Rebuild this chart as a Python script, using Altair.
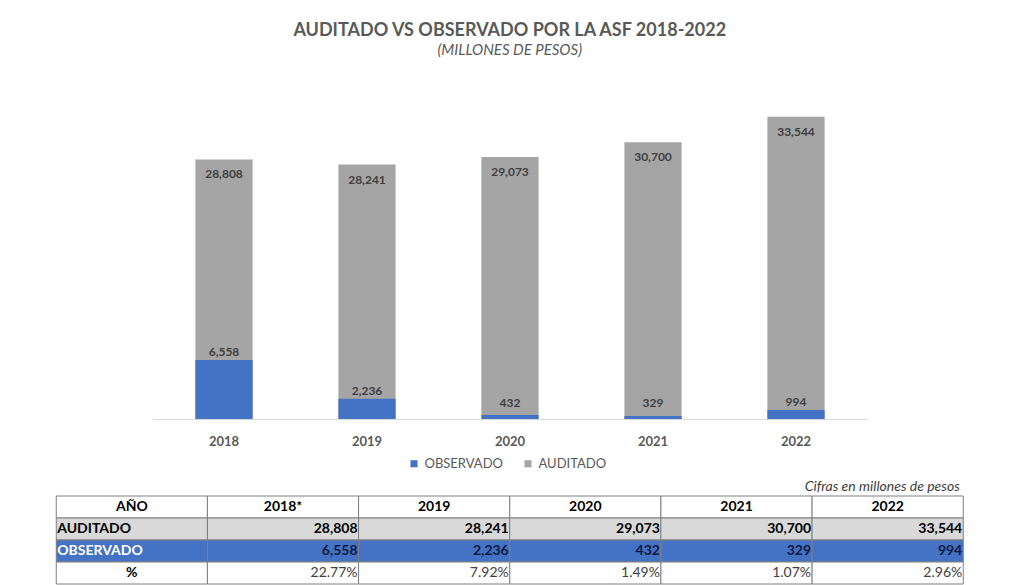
import altair as alt
import pandas as pd

# ---- data ----
years = ["2018", "2019", "2020", "2021", "2022"]
auditado = [28808, 28241, 29073, 30700, 33544]
observado = [6558, 2236, 432, 329, 994]
pct_labels = ["22.77%", "7.92%", "1.49%", "1.07%", "2.96%"]
table_header = ["AÑO", "2018*", "2019", "2020", "2021", "2022"]
row_names = ["AÑO", "AUDITADO", "OBSERVADO", "%"]
series = ["OBSERVADO", "AUDITADO"]
series_colors = ["#4472c4", "#a5a5a5"]

FONT = "Lato"
GREY_TXT = "#595959"

# ---- bar chart data ----
bars = pd.DataFrame(
    [{"year": y, "serie": "AUDITADO", "value": a} for y, a in zip(years, auditado)]
    + [{"year": y, "serie": "OBSERVADO", "value": o} for y, o in zip(years, observado)]
)
bars["label"] = bars["value"].map(lambda v: f"{v:,}")

x_enc = alt.X("year:N", sort=years,
              scale=alt.Scale(paddingInner=0.6, paddingOuter=0.3),
              axis=alt.Axis(title=None, labelAngle=0, ticks=False, labelPadding=16,
                            labelFontSize=13, labelFontWeight="bold", labelColor=GREY_TXT,
                            labelFont=FONT, domainColor="#d9d9d9", domainWidth=1))
y_scale = alt.Scale(domain=[0, 35400], nice=False)

base = alt.Chart(bars)
bar_layer = base.mark_bar().encode(
    x=x_enc,
    y=alt.Y("value:Q", stack=None, scale=y_scale, axis=None),
    color=alt.Color("serie:N", scale=alt.Scale(domain=series, range=series_colors),
                    legend=alt.Legend(title=None, orient="none", direction="horizontal",
                                      legendX=255, legendY=357, symbolType="square",
                                      symbolSize=50, labelFontSize=13, labelFont=FONT,
                                      labelColor=GREY_TXT, columnPadding=18,
                                      symbolStrokeWidth=0)),
    order=alt.Order("serie:N", sort="ascending"),
)

aud_labels = base.transform_filter(alt.datum.serie == "AUDITADO").mark_text(
    dy=15, baseline="middle", fontSize=12, fontWeight="bold", color="#404040", font=FONT
).encode(x=alt.X("year:N", sort=years), y=alt.Y("value:Q", scale=y_scale), text="label:N")

obs_labels = base.transform_filter(alt.datum.serie == "OBSERVADO").transform_calculate(
    ypos="max(datum.value, 900)"
).mark_text(
    dy=-8, baseline="middle", fontSize=12, fontWeight="bold", color="#404040", font=FONT
).encode(x=alt.X("year:N", sort=years), y=alt.Y("ypos:Q", scale=y_scale), text="label:N")

top = alt.layer(bar_layer, aud_labels, obs_labels).properties(width=715, height=319)

# ---- table data ----
recs = []
for c, h in enumerate(table_header):
    recs.append({"row": "AÑO", "col": h, "label": h, "fill": "#ffffff", "tcolor": "#000000",
                 "kind": "center_bold"})
for c, h in enumerate(table_header):
    if c == 0:
        recs.append({"row": "AUDITADO", "col": h, "label": "AUDITADO", "fill": "#d9d9d9",
                     "tcolor": "#000000", "kind": "left_bold"})
        recs.append({"row": "OBSERVADO", "col": h, "label": "OBSERVADO", "fill": "#4472c4",
                     "tcolor": "#ffffff", "kind": "left_bold"})
        recs.append({"row": "%", "col": h, "label": "%", "fill": "#ffffff",
                     "tcolor": "#000000", "kind": "center_bold"})
    else:
        recs.append({"row": "AUDITADO", "col": h, "label": f"{auditado[c-1]:,}", "fill": "#d9d9d9",
                     "tcolor": "#000000", "kind": "right_bold"})
        recs.append({"row": "OBSERVADO", "col": h, "label": f"{observado[c-1]:,}", "fill": "#4472c4",
                     "tcolor": "#0d1a40", "kind": "right_bold"})
        recs.append({"row": "%", "col": h, "label": pct_labels[c-1], "fill": "#ffffff",
                     "tcolor": "#404040", "kind": "right_normal"})
tab = pd.DataFrame(recs)

tx = alt.X("col:N", sort=table_header, scale=alt.Scale(paddingInner=0, paddingOuter=0), axis=None)
ty = alt.Y("row:N", sort=row_names, scale=alt.Scale(paddingInner=0, paddingOuter=0), axis=None)
tbase = alt.Chart(tab)
cells = tbase.mark_rect(stroke="#7f7f7f", strokeWidth=1).encode(
    x=tx, y=ty, fill=alt.Fill("fill:N", scale=None))


def text_layer(kind, align, band, dx, weight):
    return tbase.transform_filter(alt.datum.kind == kind).mark_text(
        align=align, baseline="middle", dx=dx, fontSize=14, fontWeight=weight, font=FONT
    ).encode(
        x=alt.X("col:N", sort=table_header, bandPosition=band,
                scale=alt.Scale(paddingInner=0, paddingOuter=0), axis=None),
        y=alt.Y("row:N", sort=row_names, bandPosition=0.5,
                scale=alt.Scale(paddingInner=0, paddingOuter=0), axis=None),
        text="label:N",
        color=alt.Color("tcolor:N", scale=None),
    )


table = alt.layer(
    cells,
    text_layer("center_bold", "center", 0.5, 0, "bold"),
    text_layer("left_bold", "left", 0, 1, "bold"),
    text_layer("right_bold", "right", 1, -1, "bold"),
    text_layer("right_normal", "right", 1, -1, "normal"),
).properties(
    width=907, height=88,
    title=alt.TitleParams("Cifras en millones de pesos", anchor="end", fontStyle="italic",
                          fontSize=14, fontWeight="normal", color="#404040", font=FONT,
                          offset=2, dx=-4),
)

chart = alt.vconcat(top, table, spacing=8, center=True).resolve_scale(
    color="independent", x="independent", y="independent"
).properties(
    title=alt.TitleParams(
        text="AUDITADO VS OBSERVADO POR LA ASF 2018-2022",
        subtitle="(MILLONES DE PESOS)",
        anchor="middle", fontSize=18, font=FONT, fontWeight="bold", color=GREY_TXT,
        subtitleFont=FONT, subtitleFontSize=15, subtitleFontStyle="italic",
        subtitleColor=GREY_TXT, subtitlePadding=3, offset=42,
    ),
    padding={"left": 55, "top": 22, "right": 5, "bottom": 0},
    background="#ffffff",
).configure_view(strokeWidth=0)

chart.save("out.html", embed_options={"renderer": "svg", "actions": False})
